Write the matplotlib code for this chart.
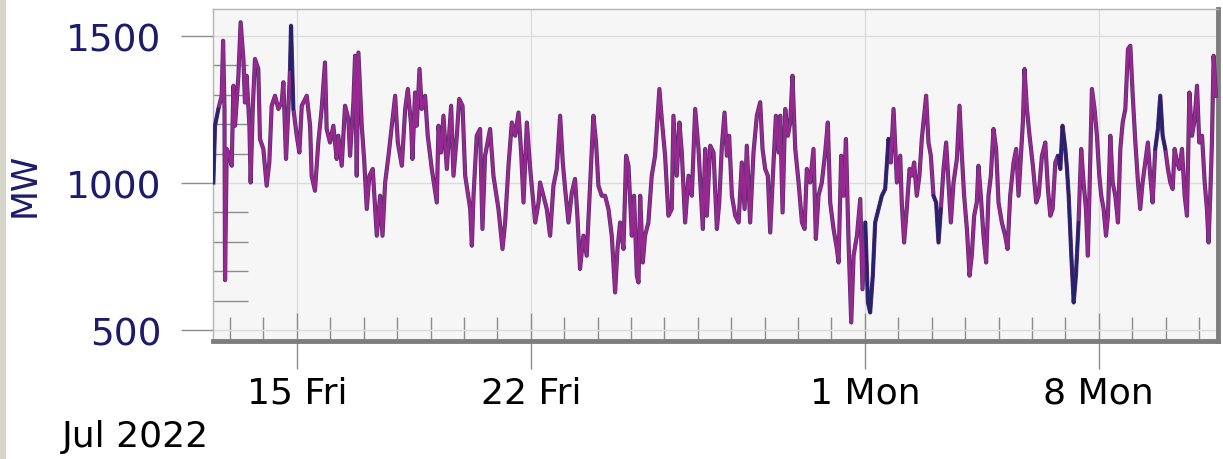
import numpy as np
import matplotlib.pyplot as plt
import matplotlib.dates as mdates
from matplotlib.patches import Rectangle

# hours since 2022-07-12 00:00, and load in MW
hours = [12, 13.2, 15.6, 18.0, 19.0, 20.0, 20.4, 21.6, 22.8, 25.2, 26.4, 27.6, 30.0, 31.6, 33.6,
         34.7, 35.9, 37.9, 38.8, 40.3, 41.9, 44.3, 45.5, 47.9, 50.3, 52.2, 53.9, 56.3, 58.7,
         61.1, 62.3, 64.2, 65.9, 67.1, 67.8, 69.5, 71.9, 73.8, 75.5, 79.1, 81.5, 82.6, 85.0,
         87.4, 89.8, 92.2, 93.4, 95.8, 98.2, 100.6, 101.8, 104.2, 106.6, 109.0, 110.2, 112.6,
         113.8, 115.0, 116.2, 118.6, 120.3, 122.2, 124.1, 126.5,
         129.4, 131.8, 133.5, 135.4, 137.8, 140.2, 142.6, 144.5, 147.4, 149.8, 151.7, 154.1,
         155.0, 156.9, 158.1, 160.1, 161.7, 164.1, 166.0, 168.9, 172.5, 173.7, 175.6, 177.3,
         179.7, 182.8, 184.5, 186.9, 188.6, 191.0, 192.9, 196.5, 197.7, 198.9, 201.2, 203.6,
         205.3, 207.2, 210.8, 213.2, 216.8, 219.7, 221.6, 224.0, 226.4, 228.8, 231.2, 233.1,
         234.8, 237.2, 239.6, 243.2, 245.6,
         246.7, 249.1, 251.5, 253.9, 256.3, 258.7, 261.1, 263.0, 264.7, 267.1, 269.5, 271.8,
         273.5, 275.4, 277.8, 280.2, 282.6, 285.0, 286.9, 288.6, 291.0, 293.4, 295.8, 298.2,
         300.6, 302.3, 304.2, 306.6, 308.5, 310.2, 312.6, 314.2, 316.2, 317.4, 318.6, 320.5,
         322.1, 324.5, 326.9, 329.3, 332.4, 334.1, 336.5, 338.9, 341.3, 342.5, 344.9, 346.8,
         348.5, 350.9, 353.3, 355.7, 358.1, 360.5, 363.6,
         365.3, 366.5, 368.9, 371.3, 373.7, 375.4, 377.3, 379.2, 380.9, 382.5, 384.5, 386.9,
         389.3, 391.6, 393.6, 395.2, 397.6, 400.0, 402.4, 404.8, 406.5, 408.4, 410.3, 412.0,
         414.4, 416.1, 418.0, 419.2, 420.9, 422.8, 424.7, 426.4, 428.0, 430.0, 432.4, 434.8,
         436.7, 438.3, 440.7, 443.1, 444.8, 446.7, 449.1, 451.5, 453.4, 455.1, 457.5, 459.9,
         461.1, 463.0, 464.7, 466.4, 468.3, 470.2, 471.9, 474.3, 476.7, 478.3, 480.3, 482.2,
         483.8, 485.7, 487.4, 489.8, 492.2, 494.6, 497.0, 498.6, 500.6, 503.0, 505.4, 506.5,
         508.2, 510.1, 512.1, 513.7, 515.4, 517.3, 519.2, 520.9, 522.6, 524.0, 525.7, 527.4,
         529.3, 531.2, 532.9, 534.6, 536.5, 538.4, 540.1, 541.8, 543.7, 546.1, 548.0, 549.7,
         551.3, 553.3, 555.2, 556.8, 558.5, 560.4, 561.6, 563.3, 565.2, 567.1, 568.8, 570.5,
         572.4, 574.3, 576.0, 578.4, 580.8, 582.5, 584.4, 586.8, 588.7, 590.4, 592.1, 593.5,
         594.7, 596.4, 598.3, 600.7, 603.1,
         604.8, 607.2, 609.6, 611.5, 613.2, 614.9, 616.8, 618.7, 620.4, 622.0, 624.0, 625.2,
         626.4, 628.3, 630.0, 631.6, 633.5, 635.4, 637.1, 638.8, 640.2, 641.4, 643.1, 645.0,
         646.7, 648.4, 649.8, 651.5, 653.2, 654.6, 656.3, 658.0, 659.9, 661.8, 663.5, 665.2,
         667.1, 669.0, 670.7, 672.3, 674.3, 676.2, 677.8, 679.5, 681.4, 683.3, 685.0, 686.7,
         688.6, 690.5, 692.2, 693.9, 695.8, 697.7, 699.4, 701.1, 702.5, 704.2, 705.9, 707.8,
         709.7, 711.4, 713.1, 715.0, 716.9, 718.6, 720.2, 722.2, 724.1, 725.7, 726.9, 728.1,
         729.3, 730.5, 732.2]

load_mw = [1002, 1195, 1252, 1297, 1484, 1252, 670, 1116, 1104, 1059, 1331, 1195, 1365, 1547, 1422,
           1274, 1365, 1195, 1002, 1252, 1422, 1388, 1150, 1116, 991, 1070, 1263, 1297, 1252,
           1275, 1343, 1082, 1252, 1388, 1535, 1252, 1161, 1104, 1263, 1297, 1195, 1025, 974,
           1138, 1252, 1410, 1184, 1138, 1195, 1082, 1161, 1059, 1263, 1218, 1093, 1275,
           1433, 1025, 1444, 1195, 1082, 912, 1025, 1048,
           821, 957, 821, 1002, 1093, 1195, 1297, 1138, 1059, 1252, 1320, 1195,
           1082, 1308, 1195, 1388, 1252, 1297, 1161, 1048, 934, 1195, 1104, 1229,
           1048, 1263, 1025, 1161, 1286, 1263, 1025, 912, 787, 957, 1161, 1184,
           844, 1093, 1184, 1025, 912, 776, 866, 1059, 1206, 1161, 1240, 1104,
           934, 1206, 1048, 866, 934,
           1002, 957, 912, 821, 991, 1048, 1229, 1070, 980, 866, 968, 1014,
           889, 708, 821, 753, 991, 1229, 1138, 991, 957, 957, 912, 821,
           628, 776, 866, 776, 1093, 1059, 821, 957, 685, 662, 957, 730,
           821, 866, 1025, 1093, 1320, 1218, 1093, 889, 912, 1229, 1025, 1206,
           1104, 866, 1025, 957, 1252, 1116, 844,
           1116, 889, 1127, 1104, 844, 934, 1127, 1240, 1093, 1161, 957, 889,
           866, 1070, 912, 1127, 866, 1104, 1229, 1275, 1116, 1048, 1025, 832,
           1070, 1229, 1104, 1229, 900, 1252, 1161, 1206, 1365, 1116, 1002, 866,
           844, 1048, 1002, 1116, 810, 957, 1002, 1104, 1206, 934, 844, 776,
           730, 1093, 957, 1150, 798, 526, 753, 821, 946, 639, 866, 594,
           560, 685, 866, 912, 957, 980, 1150, 1070, 1252, 1002, 1093, 934,
           798, 912, 1048, 1025, 1070, 957, 1025, 1150, 1229, 1297, 1138, 1093,
           957, 934, 798, 912, 1048, 1138, 1002, 866, 1002, 1082, 1263, 1093,
           957, 844, 685, 753, 889, 934, 1059, 957, 821, 730, 957, 1025,
           1184, 1116, 934, 866, 821, 776, 957, 1070, 1116, 957, 1093, 1206,
           1388, 1252, 1161, 1059, 934,
           957, 1093, 1138, 980, 889, 912, 1070, 1093, 1048, 1195, 1116, 1048,
           957, 753, 594, 685, 866, 1116, 1002, 912, 753, 980, 1320, 1252,
           1161, 1025, 957, 912, 821, 889, 1161, 1002, 957, 866, 1116, 1206,
           1252, 1456, 1467, 1308, 1138, 1002, 912, 1002, 1070, 1138, 1025, 934,
           1116, 1184, 1297, 1161, 1116, 1048, 1002, 980, 1116, 1070, 1048, 1116,
           957, 889, 1308, 1161, 1218, 1331, 1138, 1161, 1002, 912, 798, 957,
           1138, 1433, 1297]

# stretches where the second (navy) trace shows through
navy_windows = [(12, 16), (66, 70), (480, 498), (528, 536), (618, 634), (688, 696)]

tick_dates = ['2022-07-15', '2022-07-22', '2022-08-01', '2022-08-08']
tick_labels = ['15 Fri', '22 Fri', '1 Mon', '8 Mon']

navy = '#25226e'
purple = '#96288f'

h = np.array(hours)
v = np.array(load_mw, dtype=float)
t = np.datetime64('2022-07-12T00:00') + (h * 60).astype('timedelta64[m]')

mask = np.zeros(len(h), dtype=bool)
for a, b in navy_windows:
    mask |= (h >= a) & (h <= b)
v_navy = np.where(mask, v, np.nan)

fig = plt.figure(figsize=(12.23, 4.60), dpi=100)
fig.patches.append(Rectangle((0, 0), 5 / 1223, 1, transform=fig.transFigure,
                             color='#d6d3c9', zorder=0))
ax = fig.add_axes([213 / 1223, 1 - 342 / 460, 1005 / 1223, 332 / 460])
ax.set_facecolor('#f6f6f6')

ax.plot(t, v, color='#55306e', lw=3.0, zorder=3)
ax.plot(t, v, color=purple, lw=2.0, zorder=4)
ax.plot(t, v_navy, color=navy, lw=2.2, zorder=5)

ax.set_xlim(np.datetime64('2022-07-12T11:45'), np.datetime64('2022-08-11T13:40'))
ax.set_ylim(463, 1592)

ax.set_yticks([500, 1000, 1500])
ax.set_yticks(np.arange(600, 1500, 100), minor=True)
ax.tick_params(axis='y', which='major', direction='out', length=23, width=1,
               color='#8c8c8c', labelsize=27, labelcolor='#1c1c6b', pad=14)
ax.tick_params(axis='y', which='minor', direction='in', length=25, width=1, color='#8c8c8c')

ax.set_xticks([np.datetime64(d) for d in tick_dates])
ax.set_xticklabels(tick_labels)
ax.xaxis.set_minor_locator(mdates.DayLocator())
ax.tick_params(axis='x', which='major', direction='inout', length=40, width=1,
               color='#8c8c8c', labelsize=26, labelcolor='black', pad=5)
ax.tick_params(axis='x', which='minor', direction='in', length=17, width=1, color='#8c8c8c')

ax.grid(True, which='major', color='#dcdcdc', lw=1)

for side in ['left', 'top']:
    ax.spines[side].set_color('#b4b4b4')
    ax.spines[side].set_linewidth(1)
for side in ['bottom', 'right']:
    ax.spines[side].set_color('#7d7d7d')
    ax.spines[side].set_linewidth(3.5)

fig.text(25 / 1223, 1 - 185 / 460, 'MW', rotation=90, ha='center', va='center',
         fontsize=25, color='#1c1c6b')
fig.text(62 / 1223, 1 - 437 / 460, 'Jul 2022', ha='left', va='center', fontsize=26,
         color='black')

fig.savefig('out.png', dpi=100)
